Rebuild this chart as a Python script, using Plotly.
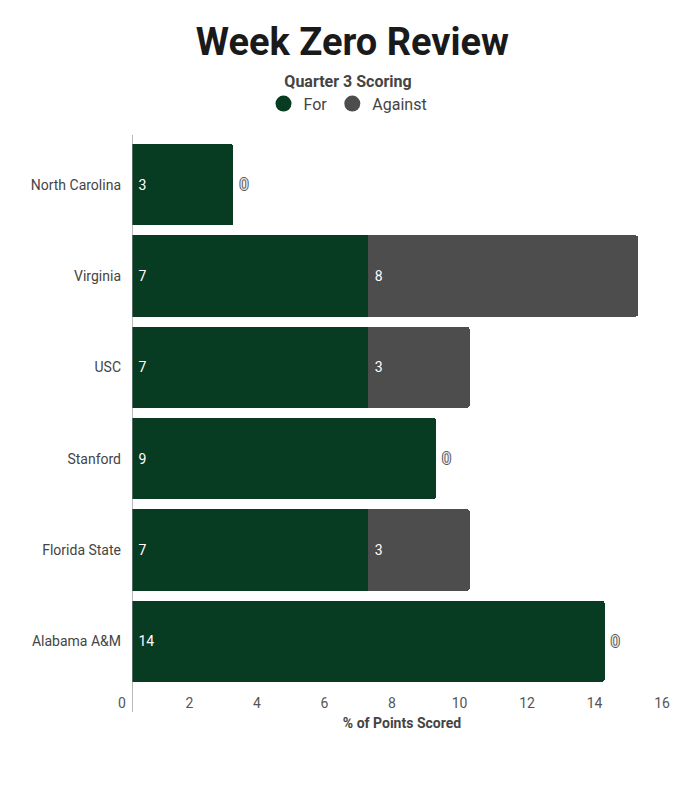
import plotly.graph_objects as go

teams = ["North Carolina", "Virginia", "USC", "Stanford", "Florida State", "Alabama A&M"]
pts_for = [3, 7, 7, 9, 7, 14]
pts_against = [0, 8, 3, 0, 3, 0]

green = "#073b22"
grey = "#4d4d4d"

fig = go.Figure()

fig.add_trace(go.Bar(
    y=teams, x=pts_for, orientation="h", name="For",
    marker=dict(color=green, line=dict(width=0)),
    text=["\u00a0" + str(v) for v in pts_for], textposition="inside",
    insidetextanchor="start", textangle=0,
    textfont=dict(color="white", size=14, family="Roboto"),
    showlegend=False,
))

# zero values get an outside label, the rest sit inside the bar
pos = ["outside" if v == 0 else "inside" for v in pts_against]
labels = ["\u2009" + str(v) if v == 0 else "\u00a0" + str(v) for v in pts_against]
cols = ["#e6e6e6" if v == 0 else "white" for v in pts_against]
sizes = [16 if v == 0 else 14 for v in pts_against]
outline = "1px 0 0 #555, -1px 0 0 #555, 0 1px 0 #555, 0 -1px 0 #555"
shadows = [outline if v == 0 else "none" for v in pts_against]
fig.add_trace(go.Bar(
    y=teams, x=pts_against, orientation="h", name="Against",
    marker=dict(color=grey, line=dict(width=0)),
    text=labels, textposition=pos,
    insidetextanchor="start", textangle=0, cliponaxis=False,
    textfont=dict(color=cols, size=sizes, family="Roboto", shadow=shadows),
    showlegend=False,
))

# legend entries with round markers
for nm, c in [("For", green), ("Against", grey)]:
    fig.add_trace(go.Scatter(
        x=[None], y=[None], mode="markers", name=nm,
        marker=dict(color=c, size=16, symbol="circle"),
    ))

fig.update_layout(
    width=700, height=800,
    barmode="stack", bargap=0.113,
    barcornerradius=2,
    paper_bgcolor="white", plot_bgcolor="white",
    margin=dict(l=124, r=36, t=131, b=121, autoexpand=False),
    font=dict(family="Roboto", color="#444444", size=14),
    title=dict(
        text="<b>Week Zero Review</b>", x=0.492, xanchor="center",
        y=1 - 34 / 800, yanchor="middle",
        font=dict(size=38, color="#1a1a1a", family="Roboto"),
    ),
    legend=dict(
        orientation="h", x=0.40, xanchor="center",
        y=1.033, yanchor="bottom", traceorder="normal",
        title=dict(text="<b>Quarter 3 Scoring</b>", side="top center",
                   font=dict(size=16, color="#444444")),
        font=dict(size=16, color="#444444"),
        itemwidth=30,
    ),
)

fig.update_xaxes(
    range=[0, 16], dtick=2, tick0=0,
    showgrid=False, zeroline=False, showline=False,
    ticks="", ticklabelshift=-10, ticklabelstandoff=6,
    tickfont=dict(size=14, color="#555555"),
    title=dict(text="<b>% of Points Scored</b>", standoff=8,
               font=dict(size=14, color="#444444")),
    fixedrange=True,
)
fig.update_yaxes(
    categoryorder="array", categoryarray=teams, autorange="reversed",
    showgrid=False, zeroline=False, showline=False, ticks="",
    ticklabelstandoff=10,
    tickfont=dict(size=14, color="#444444"),
)

# vertical baseline, running a little past the plot area
fig.add_shape(type="line", xref="x", yref="paper", x0=0, x1=0, y0=-0.0456, y1=1.0073,
              line=dict(color="#8a8a8a", width=1.2))

fig.write_html("out.html")
